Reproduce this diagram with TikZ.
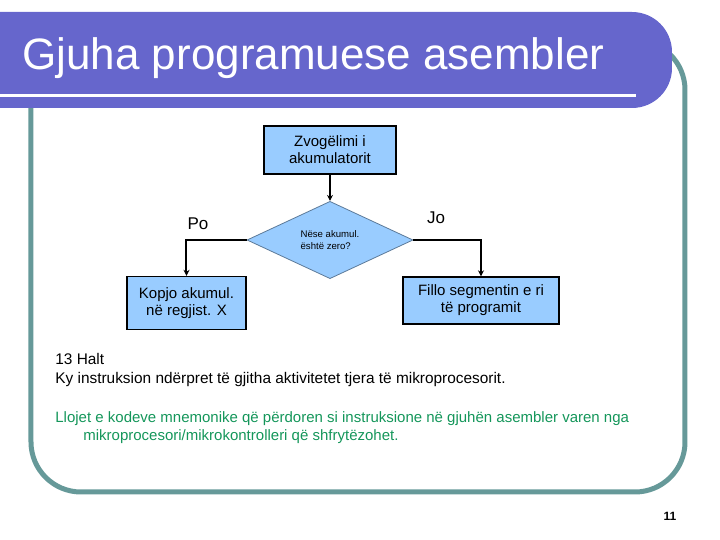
\documentclass[tikz,border=0pt]{standalone}
\usepackage{fontspec}
\setmainfont{Liberation Sans}
\usepackage{tikz}
\usetikzlibrary{shapes.geometric, arrows.meta, positioning}
\definecolor{mypurple}{RGB}{102,102,204}
\definecolor{myteal}{RGB}{102,153,153}
\definecolor{myblue}{RGB}{153,204,255}
\definecolor{mygreen}{RGB}{20,150,90}
\tikzset{
  block/.style={rectangle, draw=black, fill=myblue, align=center,
    font=\fontsize{7.5}{8.5}\selectfont, line width=0.7pt, inner sep=0pt},
  decision/.style={diamond, draw=myblue!60!black, fill=myblue, align=left,
    font=\fontsize{4.8}{5.8}\selectfont, line width=0.4pt, inner sep=0pt,
    minimum width=83pt, minimum height=36pt},
  label/.style={font=\fontsize{8.5}{10}\selectfont},
  bodytext/.style={anchor=west, inner sep=0pt, font=\fontsize{7.7}{9}\selectfont, align=left},
  notetext/.style={bodytext, text=mygreen, font=\fontsize{7.5}{9}\selectfont},
  arrow/.style={-{Stealth[length=3pt, width=3pt]}, line width=1pt, color=black}
}

\begin{document}
\begin{tikzpicture}[x=0.5pt, y=-0.5pt]
  \useasboundingbox (0,0) rectangle (720,540);

  % Slide frame and title bar
  \draw[myteal, line width=2.5pt, rounded corners=25pt] (31,40) rectangle (685,492);
  \fill[mypurple, rounded corners=20pt] (-40,12) rectangle (672,108);
  \draw[white, line width=1.5pt] (0,96) -- (636,96);
  \node[anchor=base west, inner sep=0pt, text=white, font=\fontsize{22}{26}\selectfont] (title) at (22,70) {Gjuha programuese asembler};

  % Flowchart
  \node[block, minimum width=66pt, minimum height=24pt] (dec) at (330,150) {Zvogëlimi i\\akumulatorit};
  \node[decision] (zero) at (330,240) {Nëse akumul.\\është zero?};
  \node[block, minimum width=59.5pt, minimum height=26.5pt] (copy) at (186.5,303) {Kopjo akumul.\\në regjist. X};
  \node[block, minimum width=78pt, minimum height=23.5pt] (next) at (481,300.5) {Fillo segmentin e ri\\të programit};
  \node[label] (yes) at (198,224) {Po};
  \node[label] (no) at (436,218) {Jo};

  \draw[arrow] (dec) -- (zero);
  \draw[arrow] (zero.west) -| (copy.north);
  \draw[arrow] (zero.east) -| (next.north);

  % Notes
  \node[bodytext] (halt) at (55,359) {13 Halt};
  \node[bodytext] (haltinfo) at (55,380) {Ky instruksion ndërpret të gjitha aktivitetet tjera të mikroprocesorit.};
  \node[notetext] (note1) at (55,419) {Llojet e kodeve mnemonike që përdoren si instruksione në gjuhën asembler varen nga};
  \node[notetext] (note2) at (83,437) {mikroprocesori/mikrokontrolleri që shfrytëzohet.};

  \node[font=\bfseries\fontsize{6}{7}\selectfont] (pagenum) at (670,516) {11};
\end{tikzpicture}
\end{document}
